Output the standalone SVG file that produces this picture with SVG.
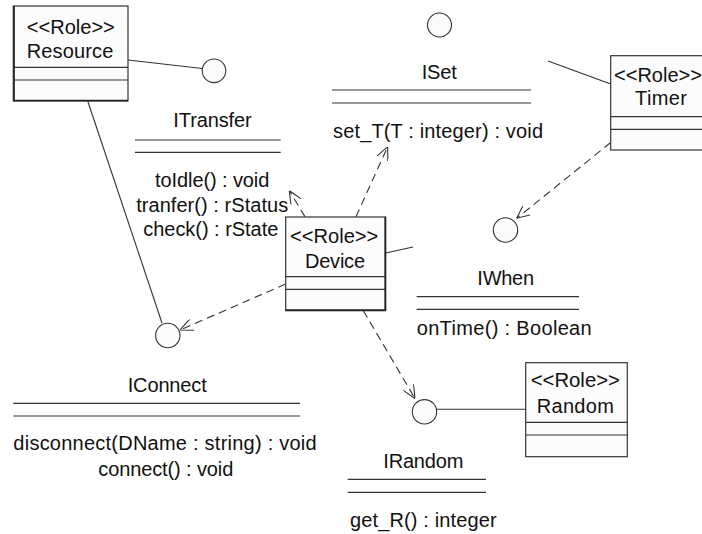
<svg xmlns="http://www.w3.org/2000/svg" width="702" height="534" viewBox="0 0 702 534">
<style>
  .box { fill: #fcfcfc; stroke: #333; stroke-width: 1.2; }
  .div { stroke: #333; stroke-width: 1.2; }
  .shadow { stroke: #222; stroke-width: 1.7; fill: none; }
  .t { font-family: "Liberation Sans", Arial, sans-serif; font-size: 20px; fill: #111; text-anchor: middle; }
  .sep { stroke: #333; stroke-width: 1.2; }
  .lolli { fill: #fbfbfb; stroke: #333; stroke-width: 1.1; }
  .solid { stroke: #333; stroke-width: 1.1; fill: none; }
  .dash { stroke: #333; stroke-width: 1.1; fill: none; stroke-dasharray: 8 5; marker-end: url(#open); }
</style>
<defs>
  <marker id="open" viewBox="0 0 13 12" markerWidth="13" markerHeight="12" refX="13" refY="6" orient="auto" markerUnits="userSpaceOnUse">
    <path d="M0,0 L13,6 L0,12" fill="none" stroke="#333" stroke-width="1.1"/>
  </marker>
</defs>

<g id="connectors">
  <line class="solid" x1="128" y1="60" x2="202.3" y2="68.5"/>
  <line class="solid" x1="87.7" y1="101" x2="162" y2="323"/>
  <line class="solid" x1="610.7" y1="84" x2="548" y2="61"/>
  <line class="solid" x1="385.7" y1="253" x2="413" y2="247"/>
  <line class="solid" x1="436.5" y1="409.3" x2="525.7" y2="409.3"/>
  <line class="dash" x1="305" y1="216.7" x2="289.3" y2="190.7"/>
  <line class="dash" x1="356" y1="216.7" x2="387.7" y2="146.7"/>
  <line class="dash" x1="285.7" y1="284" x2="180" y2="330"/>
  <line class="dash" x1="363.3" y1="310.7" x2="415" y2="398.5"/>
  <line class="dash" x1="610.7" y1="142.5" x2="516.7" y2="218.3"/>
</g>

<g id="Resource">
  <rect class="box" x="13.3" y="6" width="114.7" height="95"/>
  <line class="div" x1="13.3" y1="67.3" x2="128" y2="67.3"/>
  <line class="div" x1="13.3" y1="80" x2="128" y2="80"/>
  <polyline class="shadow" points="14,6 14,100.5 128,100.5"/>
  <text class="t" x="70.8" y="34.3" textLength="88" lengthAdjust="spacingAndGlyphs">&lt;&lt;Role&gt;&gt;</text>
  <text class="t" x="70" y="58.3" textLength="86.7">Resource</text>
</g>

<g id="Timer">
  <rect class="box" x="610.7" y="55.7" width="102" height="94.3"/>
  <line class="div" x1="610.7" y1="116.7" x2="712" y2="116.7"/>
  <line class="div" x1="610.7" y1="129.3" x2="712" y2="129.3"/>
  <text class="t" x="658" y="82" textLength="88" lengthAdjust="spacingAndGlyphs">&lt;&lt;Role&gt;&gt;</text>
  <text class="t" x="661" y="105" textLength="52">Timer</text>
</g>

<g id="Device">
  <rect class="box" x="285.7" y="217" width="100" height="93.7"/>
  <line class="div" x1="285.7" y1="276.7" x2="385.7" y2="276.7"/>
  <line class="div" x1="285.7" y1="289.3" x2="385.7" y2="289.3"/>
  <polyline class="shadow" points="385.2,217 385.2,310.2 285.7,310.2"/>
  <text class="t" x="334.2" y="243.3" textLength="88.3" lengthAdjust="spacingAndGlyphs">&lt;&lt;Role&gt;&gt;</text>
  <text class="t" x="335" y="268.3" textLength="60">Device</text>
</g>

<g id="Random">
  <rect class="box" x="525.7" y="362.7" width="101.6" height="94"/>
  <line class="div" x1="525.7" y1="422.3" x2="627.3" y2="422.3"/>
  <line class="div" x1="525.7" y1="435" x2="627.3" y2="435"/>
  <text class="t" x="575.3" y="386.7" textLength="89.3" lengthAdjust="spacingAndGlyphs">&lt;&lt;Role&gt;&gt;</text>
  <text class="t" x="575.3" y="413.3" textLength="77.3">Random</text>
</g>

<g id="IResourceLollipop">
  <circle class="lolli" cx="214" cy="70.8" r="11.8"/>
</g>

<g id="ISet">
  <circle class="lolli" cx="439.5" cy="25" r="12"/>
  <text class="t" x="439.2" y="79" textLength="35">ISet</text>
  <line class="sep" x1="332" y1="90" x2="531" y2="90"/>
  <line class="sep" x1="332" y1="103" x2="531" y2="103"/>
  <text class="t" x="438" y="138" textLength="210">set_T(T : integer) : void</text>
</g>

<g id="ITransfer">
  <text class="t" x="212.5" y="127.3" textLength="78.3">ITransfer</text>
  <line class="sep" x1="135" y1="140" x2="280.7" y2="140"/>
  <line class="sep" x1="135" y1="152.3" x2="280.7" y2="152.3"/>
  <text class="t" x="212.2" y="186.7" textLength="114.3">toIdle() : void</text>
  <text class="t" x="212.2" y="211.5" textLength="152">tranfer() : rStatus</text>
  <text class="t" x="210.8" y="236" textLength="135">check() : rState</text>
</g>

<g id="IWhen">
  <circle class="lolli" cx="505.5" cy="230" r="12.2"/>
  <text class="t" x="505.7" y="285" textLength="56.7">IWhen</text>
  <line class="sep" x1="416.7" y1="296.7" x2="579" y2="296.7"/>
  <line class="sep" x1="416.7" y1="309.3" x2="579" y2="309.3"/>
  <text class="t" x="504.2" y="335" textLength="175">onTime() : Boolean</text>
</g>

<g id="IConnect">
  <circle class="lolli" cx="167.8" cy="335.5" r="12.2"/>
  <text class="t" x="167.2" y="392.3" textLength="79">IConnect</text>
  <line class="sep" x1="13.3" y1="403.3" x2="300" y2="403.3"/>
  <line class="sep" x1="13.3" y1="416" x2="300" y2="416"/>
  <text class="t" x="165" y="450.3" textLength="303.3">disconnect(DName : string) : void</text>
  <text class="t" x="165.8" y="475.8" textLength="135">connect() : void</text>
</g>

<g id="IRandom">
  <circle class="lolli" cx="424.5" cy="411.8" r="12.2"/>
  <text class="t" x="423.3" y="468.3" textLength="80">IRandom</text>
  <line class="sep" x1="347.7" y1="479.3" x2="486" y2="479.3"/>
  <line class="sep" x1="347.7" y1="492.3" x2="486" y2="492.3"/>
  <text class="t" x="423.3" y="526.7" textLength="146.7">get_R() : integer</text>
</g>
</svg>
